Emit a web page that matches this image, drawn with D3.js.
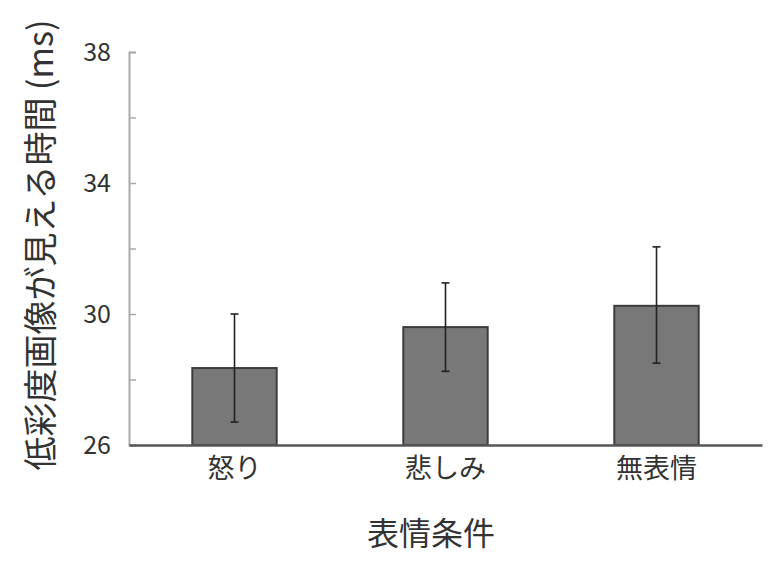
<!DOCTYPE html>
<html>
<head>
<meta charset="utf-8">
<script src="https://cdn.jsdelivr.net/npm/d3@7"></script>
<style>
  body { margin: 0; background: #fff; }
  text { font-family: "Noto Sans CJK JP", "Noto Sans", sans-serif; fill: #333; }
</style>
</head>
<body>
<div id="chart"></div>
<script>
// data
const categories = ["怒り", "悲しみ", "無表情"];
const means = [28.35, 29.6, 30.25];
const errLow = [26.7, 28.25, 28.5];
const errHigh = [30.0, 30.95, 32.05];
const yTicks = [26, 28, 30, 32, 34, 36, 38];
const yLabels = [26, 30, 34, 38];

const width = 780;
const height = 563;
const padding = {top: 52, left: 129, right: 18, bottom: 118};

const svg = d3.select("#chart")
  .append("svg")
  .attr("width", width)
  .attr("height", height);

const xScale = d3.scaleBand()
  .domain(categories)
  .range([padding.left, width - padding.right])
  .paddingInner(0.6)
  .paddingOuter(0.3);

const yScale = d3.scaleLinear()
  .domain([26, 38])
  .range([height - padding.bottom, padding.top]);

// y axis: ticks point inward, labels only every 4
const yAxis = d3.axisRight(yScale)
  .tickValues(yTicks)
  .tickSize(7)
  .tickFormat("");

const gy = svg.append("g")
  .attr("transform", `translate(${padding.left}, 0)`)
  .call(yAxis);
gy.select(".domain").attr("stroke", "#aaa").attr("stroke-width", 2);
gy.selectAll(".tick line").attr("stroke", "#aaa").attr("stroke-width", 1.5);

svg.selectAll(".ylab")
  .data(yLabels)
  .enter().append("text")
  .attr("class", "ylab")
  .attr("x", 111)
  .attr("y", d => yScale(d))
  .attr("dy", "0.35em")
  .attr("text-anchor", "end")
  .style("font-size", "25px")
  .text(d => d);

// bars
svg.selectAll(".bar")
  .data(means)
  .enter().append("rect")
  .attr("class", "bar")
  .attr("x", (d, i) => xScale(categories[i]))
  .attr("y", d => yScale(d))
  .attr("width", xScale.bandwidth())
  .attr("height", d => yScale(26) - yScale(d))
  .attr("fill", "#787878")
  .attr("stroke", "#3c3c3c")
  .attr("stroke-width", 2);

// error bars
const cx = i => xScale(categories[i]) + xScale.bandwidth() / 2;
const err = svg.append("g").attr("stroke", "#222").attr("stroke-width", 1.6);
err.selectAll(".ev")
  .data(means)
  .enter().append("line")
  .attr("x1", (d, i) => cx(i))
  .attr("x2", (d, i) => cx(i))
  .attr("y1", (d, i) => yScale(errLow[i]))
  .attr("y2", (d, i) => yScale(errHigh[i]));
err.selectAll(".ct")
  .data(errHigh)
  .enter().append("line")
  .attr("x1", (d, i) => cx(i) - 4)
  .attr("x2", (d, i) => cx(i) + 4)
  .attr("y1", d => yScale(d))
  .attr("y2", d => yScale(d));
err.selectAll(".cb")
  .data(errLow)
  .enter().append("line")
  .attr("x1", (d, i) => cx(i) - 4)
  .attr("x2", (d, i) => cx(i) + 4)
  .attr("y1", d => yScale(d))
  .attr("y2", d => yScale(d));

// x axis baseline + category labels
const xAxis = d3.axisBottom(xScale).tickSize(0).tickPadding(14);
const gx = svg.append("g")
  .attr("transform", `translate(0, ${yScale(26)})`)
  .call(xAxis);
gx.select(".domain").attr("stroke", "#555").attr("stroke-width", 2.5);
gx.selectAll(".tick text")
  .style("font-size", "27px")
  .style("font-family", '"Noto Sans CJK JP", sans-serif')
  .attr("fill", "#333");

// titles
svg.append("text")
  .attr("x", 431)
  .attr("y", 534)
  .attr("dy", "0.35em")
  .attr("text-anchor", "middle")
  .style("font-size", "32px")
  .text("表情条件");

svg.append("text")
  .attr("transform", "translate(41, 245) rotate(-90)")
  .attr("dy", "0.35em")
  .attr("text-anchor", "middle")
  .style("font-size", "34px")
  .text("低彩度画像が見える時間 (ms)");
</script>
</body>
</html>
